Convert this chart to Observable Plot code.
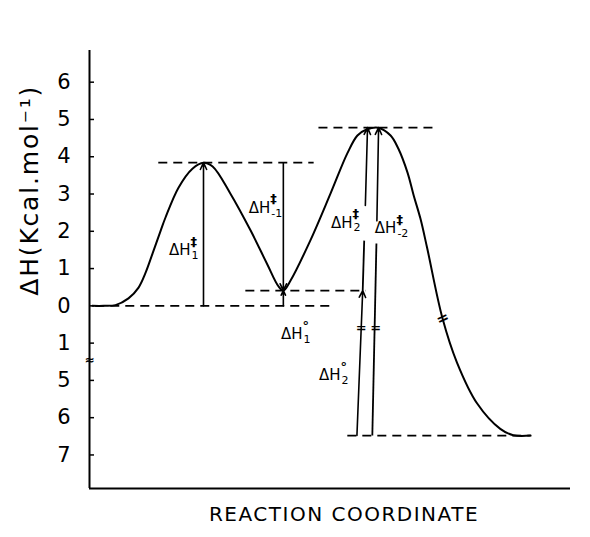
<!DOCTYPE html>
<html>
<head>
<meta charset="utf-8">
<script src="https://cdn.jsdelivr.net/npm/d3@7"></script>
<script src="https://cdn.jsdelivr.net/npm/@observablehq/plot@0.6"></script>
<style>
  html, body { margin: 0; padding: 0; background: #fff; }
</style>
</head>
<body>
<div id="chart"></div>
<script>
// Reaction coordinate profile (x: arbitrary reaction coordinate, y: ΔH in kcal/mol, broken axis below 1)
const curveX = [0.06, 0.30, 0.54, 0.81, 1.02, 1.16, 1.31, 1.48, 1.58, 1.85, 2.14, 2.37, 2.56, 2.93, 3.35, 3.69, 3.93, 4.03, 4.18, 4.59, 5.01, 5.36, 5.57, 5.76, 6.00, 6.26, 6.42, 6.61, 6.74, 6.88, 7.02, 7.34, 7.64, 8.06, 8.54, 8.81, 9.17];
const curveY = [0.00, 0.00, 0.02, 0.20, 0.49, 0.87, 1.40, 2.02, 2.37, 3.17, 3.68, 3.84, 3.74, 3.01, 2.02, 1.13, 0.52, 0.41, 0.68, 1.75, 3.01, 4.09, 4.57, 4.73, 4.78, 4.57, 4.22, 3.58, 2.96, 2.34, 1.55, -0.34, -1.52, -2.62, -3.30, -3.47, -3.48];

// Energy levels (dashed reference lines)
const levelY  = [0, 3.84, 0.41, 4.78, -3.48];
const levelX1 = [0.12, 1.43, 3.24, 4.76, 5.36];
const levelX2 = [5.01, 4.66, 5.74, 7.23, 9.17];

// Enthalpy arrows (x1,y1 -> x2,y2), head at the end
const arrowX1 = [2.37, 4.03, 4.03, 5.735, 5.56, 5.975];
const arrowY1 = [0, 3.84, 0, 2.69, -3.48, 2.28];
const arrowX2 = [2.37, 4.03, 4.03, 5.78, 5.68, 6.01];
const arrowY2 = [3.84, 0.41, 0.41, 4.78, 0.41, 4.78];

// Plain line segments (parts of the broken arrows)
const segX1 = [5.68, 5.88];
const segY1 = [0.41, -3.48];
const segX2 = [5.711, 5.965];
const segY2 = [1.75, 1.67];

// Labels ΔH with subscript / superscript
const labelX   = [2.10, 3.76, 4.43, 5.47, 6.38, 5.22];
const labelY   = [1.48, 2.62, -0.77, 2.23, 2.07, -1.87];
const labelSub = ["1", "-1", "1", "2", "-2", "2"];
const labelSup = ["‡", "‡", "°", "‡", "‡", "°"];

// Break marks
const breakX = [5.65, 5.95];
const breakY = [-0.58, -0.58];
const curveBreakX = [7.34];
const curveBreakY = [-0.34];
const axisBreakY = [-1.47];

// Y axis ticks (broken scale: below "1" the values jump to 5, 6, 7)
const yTickValues = [-4, -3, -2, -1, 0, 1, 2, 3, 4, 5, 6];
const yTickLabels = ["7", "6", "5", "1", "0", "1", "2", "3", "4", "5", "6"];

const xTitle = "REACTION COORDINATE";
const yTitle = "ΔH(Kcal.mol⁻¹)";

const curve = curveX.map((x, i) => ({x, y: curveY[i]}));
const levels = levelY.map((y, i) => ({y, x1: levelX1[i], x2: levelX2[i]}));
const arrows = arrowX1.map((x1, i) => ({x1, y1: arrowY1[i], x2: arrowX2[i], y2: arrowY2[i]}));
const segs = segX1.map((x1, i) => ({x1, y1: segY1[i], x2: segX2[i], y2: segY2[i]}));
const labels = labelX.map((x, i) => ({x, y: labelY[i], sub: labelSub[i], sup: labelSup[i]}));
const breaks = breakX.map((x, i) => ({x, y: breakY[i]}));
const curveBreaks = curveBreakX.map((x, i) => ({x, y: curveBreakY[i]}));

const chart = Plot.plot({
  width: 590,
  height: 537,
  marginLeft: 89,
  marginRight: 20,
  marginTop: 50,
  marginBottom: 49,
  style: {fontFamily: "DejaVu Sans", background: "#fff", color: "#000"},
  x: {domain: [0, 10], axis: null},
  y: {domain: [-4.9, 6.85], axis: null},
  marks: [
    Plot.axisY({
      ticks: yTickValues,
      tickFormat: d => yTickLabels[yTickValues.indexOf(d)],
      tickSize: 5,
      dx: 5,
      tickPadding: 19,
      fontSize: 21,
      label: null,
      strokeWidth: 1.5
    }),
    Plot.ruleX([0], {stroke: "#000", strokeWidth: 2}),
    Plot.ruleY([-4.9], {stroke: "#000", strokeWidth: 2}),
    Plot.link(levels, {x1: "x1", x2: "x2", y1: "y", y2: "y", stroke: "#000", strokeWidth: 1.8, strokeDasharray: "9,6"}),
    Plot.line(curve, {x: "x", y: "y", curve: "catmull-rom", stroke: "#000", strokeWidth: 2}),
    Plot.link(segs, {x1: "x1", y1: "y1", x2: "x2", y2: "y2", stroke: "#000", strokeWidth: 1.8}),
    Plot.arrow(arrows, {x1: "x1", y1: "y1", x2: "x2", y2: "y2", stroke: "#000", strokeWidth: 1.6, headLength: 7, headAngle: 50}),
    Plot.text(breaks, {x: "x", y: "y", text: () => "=", fontSize: 13, fontWeight: "bold", fill: "#000"}),
    Plot.text(curveBreaks, {x: "x", y: "y", text: () => "=", fontSize: 15, fontWeight: "bold", rotate: -25, fill: "#000"}),
    Plot.text(axisBreakY, {x: () => 0, y: d => d, text: () => "≈", fontSize: 12, fontWeight: "bold", fill: "#000"}),
    Plot.text(labels, {x: "x", y: "y", text: () => "ΔH", textAnchor: "end", fontSize: 15, fill: "#000"}),
    Plot.text(labels, {x: "x", y: "y", text: "sub", textAnchor: "start", dx: 1, dy: 5, fontSize: 11, fill: "#000"}),
    Plot.text(labels, {x: "x", y: "y", text: "sup", textAnchor: "start", dx: 0, dy: -9, fontSize: 13, fontWeight: "bold", fill: "#000"}),
    Plot.text([xTitle], {frameAnchor: "bottom", text: d => d, dy: 32, dx: 14, fontSize: 20, fill: "#000"}),
    Plot.text([yTitle], {x: () => 0, y: () => 3.1, text: d => d, rotate: -90, dx: -60, fontSize: 25, fill: "#000"})
  ]
});
d3.select(chart).selectAll("text").filter(function() { return this.textContent === xTitle; })
  .style("letter-spacing", "1.5px");
d3.select(chart).selectAll("text").filter(function() { return this.textContent === yTitle; })
  .style("letter-spacing", "1.8px");
document.getElementById("chart").appendChild(chart);
</script>
</body>
</html>
